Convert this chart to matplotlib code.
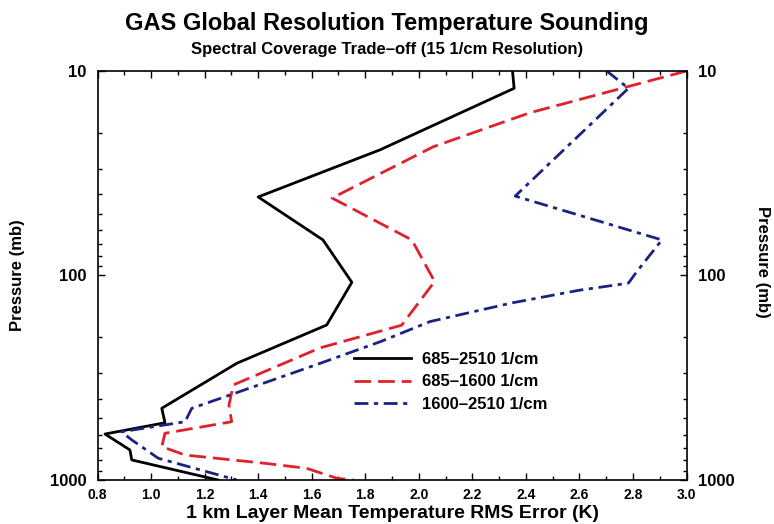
import matplotlib.pyplot as plt
from matplotlib.ticker import MultipleLocator, LogLocator, NullFormatter, FixedLocator, FixedFormatter

plt.rcParams['font.family'] = ['Liberation Sans', 'DejaVu Sans']
plt.rcParams['font.weight'] = 'bold'

# 685-2510 1/cm
x_full = [2.35, 2.356, 1.855, 1.40, 1.642, 1.75, 1.656, 1.32, 1.04, 1.052, 0.828, 0.921, 0.928, 1.25]
p_full = [10, 12.15, 24.3, 41.3, 67, 108, 174.6, 268.8, 446, 525, 596, 713, 798, 1000]

# 685-1600 1/cm
x_long = [3.0, 2.415, 2.053, 1.676, 1.974, 2.059, 1.936, 1.631, 1.307, 1.291, 1.301,
          1.052, 1.040, 1.127, 1.426, 1.581, 1.694, 1.756]
p_long = [10, 16.0, 23.5, 41.8, 67, 107, 175, 226, 343, 430, 519,
          591, 687, 755, 829, 877, 981, 1000]

# 1600-2510 1/cm
x_short = [2.702, 2.783, 2.36, 2.908, 2.814, 2.783, 2.60, 2.35, 2.042, 1.855, 1.631,
           1.295, 1.152, 1.127, 0.890, 0.928, 1.027, 1.32]
p_short = [10, 12.15, 40.9, 67, 95.8, 109, 118, 136, 168, 211, 269,
           384, 446, 519, 581, 637, 783, 1000]

labels = ['685\u20132510 1/cm', '685\u20131600 1/cm', '1600\u20132510 1/cm']

fig = plt.figure(figsize=(7.74, 5.24), dpi=100)
ax = fig.add_axes([0.126, 0.084, 0.761, 0.7805])

ax.plot(x_full, p_full, color='black', lw=2.0, label=labels[0])
ax.plot(x_long, p_long, color='#e0202a', lw=2.0, dashes=(6, 2.5), label=labels[1])
ax.plot(x_short, p_short, color='#1a2480', lw=2.0, dashes=(5, 2, 1.5, 2), label=labels[2])

ax.set_yscale('log')
ax.set_ylim(1000, 10)
ax.set_xlim(0.8, 3.0)

ax.xaxis.set_major_locator(MultipleLocator(0.2))
ax.xaxis.set_minor_locator(MultipleLocator(0.1))
ax.xaxis.set_major_formatter(plt.FuncFormatter(lambda v, pos: '%.1f' % v))
ax.yaxis.set_major_locator(FixedLocator([10, 100, 1000]))
ax.yaxis.set_major_formatter(FixedFormatter(['10', '100', '1000']))
ax.yaxis.set_minor_locator(LogLocator(base=10, subs=range(2, 10)))
ax.yaxis.set_minor_formatter(NullFormatter())

ax.tick_params(which='both', direction='in', top=True, right=True, labelright=True)
ax.tick_params(which='major', length=5, width=1)
ax.tick_params(which='minor', length=3, width=1)
ax.tick_params(axis='x', labelsize=10, pad=6)
ax.tick_params(axis='y', labelsize=12, pad=8)
for lab in ax.get_xticklabels() + ax.get_yticklabels():
    lab.set_fontweight('bold')
for s in ax.spines.values():
    s.set_linewidth(1.2)

ax.set_xlabel('1 km Layer Mean Temperature RMS Error (K)', fontsize=14, fontweight='bold', labelpad=2)
ax.set_ylabel('Pressure (mb)', fontsize=12, fontweight='bold', labelpad=18)
fig.text(0.985, 0.5, 'Pressure (mb)', rotation=-90, fontsize=12, fontweight='bold',
         ha='center', va='center')

fig.text(0.5, 0.955, 'GAS Global Resolution Temperature Sounding', fontsize=17,
         fontweight='bold', ha='center', va='center')
fig.text(0.5, 0.906, 'Spectral Coverage Trade\u2013off (15 1/cm Resolution)', fontsize=12,
         fontweight='bold', ha='center', va='center')

leg = ax.legend(loc='upper left', bbox_to_anchor=(0.41, 0.35), frameon=False,
                fontsize=12, handlelength=3.4, handletextpad=0.7, labelspacing=0.45)
for t in leg.get_texts():
    t.set_fontweight('bold')

fig.savefig('out.png', dpi=100)
